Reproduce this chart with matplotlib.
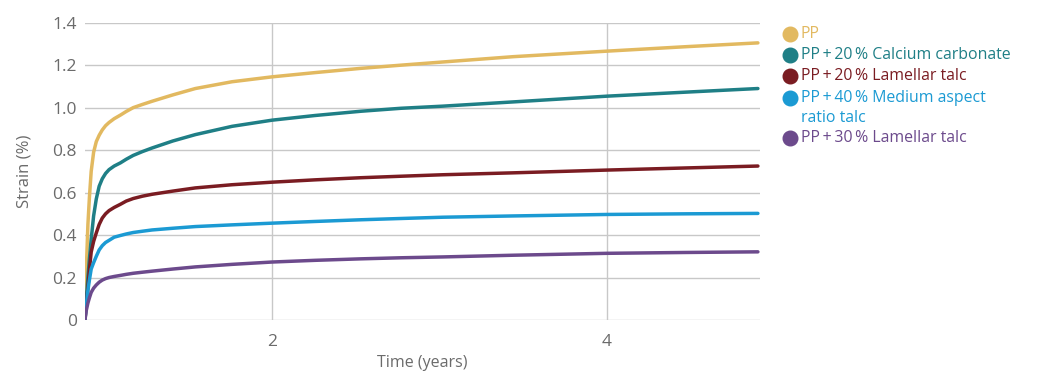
import matplotlib
matplotlib.use("Agg")
import matplotlib.pyplot as plt
import numpy as np
from matplotlib.lines import Line2D

plt.rcParams['font.family'] = ['Open Sans', 'DejaVu Sans']

# Data (time in years, strain in %)
time_years = [0, 0.06, 0.12, 0.16, 0.2, 0.25, 0.3, 0.35, 0.4, 0.45, 0.5, 0.57, 0.65, 0.72,
              0.8, 0.9, 1.0, 1.2, 1.4, 1.7, 2.0, 2.3, 2.6, 2.85, 3.1, 3.5, 4.0, 4.4, 4.75]
strain_pp = [0, 0.20, 0.45, 0.58, 0.70, 0.79, 0.84, 0.87, 0.895, 0.915, 0.93, 0.948, 0.965, 0.982,
             1.0, 1.015, 1.03, 1.06, 1.09, 1.122, 1.145, 1.165, 1.185, 1.20, 1.215, 1.24, 1.266, 1.287, 1.305]
strain_caco3 = [0, 0.08, 0.20, 0.29, 0.38, 0.49, 0.57, 0.63, 0.665, 0.69, 0.708, 0.725, 0.74, 0.757,
                0.775, 0.793, 0.81, 0.843, 0.873, 0.912, 0.941, 0.963, 0.983, 0.997, 1.007, 1.027, 1.054, 1.073, 1.09]
strain_lam20 = [0, 0.06, 0.15, 0.24, 0.32, 0.37, 0.41, 0.45, 0.48, 0.50, 0.515, 0.53, 0.545, 0.56,
                0.572, 0.583, 0.592, 0.607, 0.622, 0.637, 0.649, 0.66, 0.67, 0.677, 0.684, 0.693, 0.706, 0.716, 0.725]
strain_med40 = [0, 0.06, 0.14, 0.19, 0.24, 0.27, 0.30, 0.33, 0.35, 0.365, 0.375, 0.39, 0.398, 0.405,
                0.412, 0.418, 0.424, 0.432, 0.44, 0.448, 0.456, 0.464, 0.472, 0.478, 0.484, 0.49, 0.497, 0.50, 0.502]
strain_lam30 = [0, 0.04, 0.08, 0.105, 0.13, 0.15, 0.165, 0.178, 0.188, 0.195, 0.20, 0.205, 0.21, 0.215,
                0.22, 0.225, 0.23, 0.24, 0.25, 0.262, 0.273, 0.281, 0.288, 0.293, 0.297, 0.305, 0.314, 0.318, 0.321]

series_labels = ["PP", "PP\u2009+\u200920\u2009% Calcium carbonate", "PP\u2009+\u200920\u2009% Lamellar talc",
                 "PP\u2009+\u200940\u2009% Medium aspect\nratio talc", "PP\u2009+\u200930\u2009% Lamellar talc"]
series_values = [strain_pp, strain_caco3, strain_lam20, strain_med40, strain_lam30]
series_colors = ["#E2B960", "#1F7F86", "#7A1C22", "#1B9AD3", "#6C4A8C"]

x_ticks = [2, 4]
y_ticks = [0, 0.2, 0.4, 0.6, 0.8, 1.0, 1.2, 1.4]
y_ticklabels = ["0", "0.2", "0.4", "0.6", "0.8", "1.0", "1.2", "1.4"]

W, H = 1054, 382
fig = plt.figure(figsize=(W / 100, H / 100), dpi=100)
ax = fig.add_axes([85 / W, 1 - 320 / H, (760 - 85) / W, (320 - 22.7) / H])

p = 1.48
ax.set_xscale('function', functions=(lambda t: np.sign(t) * np.abs(t) ** p,
                                     lambda u: np.sign(u) * np.abs(u) ** (1 / p)))

for vals, col in zip(series_values, series_colors):
    ax.plot(time_years, vals, color=col, lw=2.5, solid_capstyle='round',
            solid_joinstyle='round', zorder=3)

ax.set_xlim(0, 4.76)
ax.set_ylim(0, 1.4)
ax.set_xticks(x_ticks)
ax.set_xticklabels([str(v) for v in x_ticks])
ax.set_yticks(y_ticks)
ax.set_yticklabels(y_ticklabels)
grid_col = "#c8c8c8"
ax.grid(True, color=grid_col, lw=1.0)
ax.set_axisbelow(True)
for s in ax.spines.values():
    s.set_visible(False)
ax.tick_params(length=0, labelsize=12.5, labelcolor="#6b6b6b", pad=6)
ax.tick_params(axis='x', pad=10)
ax.set_ylabel("Strain (%)", fontsize=12, color="#6b6b6b", labelpad=14)
ax.set_xlabel("Time (years)", fontsize=11.5, color="#6b6b6b", labelpad=4)

# Legend (manual)
leg_y = [34.3, 55, 75.5, 98, 138]
for lab, col, yy in zip(series_labels, series_colors, leg_y):
    lines = lab.split("\n")
    fig.add_artist(Line2D([790 / W], [1 - yy / H], marker='o', markersize=10.5,
                          color=col, linestyle='none', transform=fig.transFigure))
    for i, ln in enumerate(lines):
        fig.text(801 / W, 1 - (yy + i * 20) / H, ln, color=col, fontsize=11.4,
                 va='center', ha='left')

fig.savefig("out.png", dpi=100)
